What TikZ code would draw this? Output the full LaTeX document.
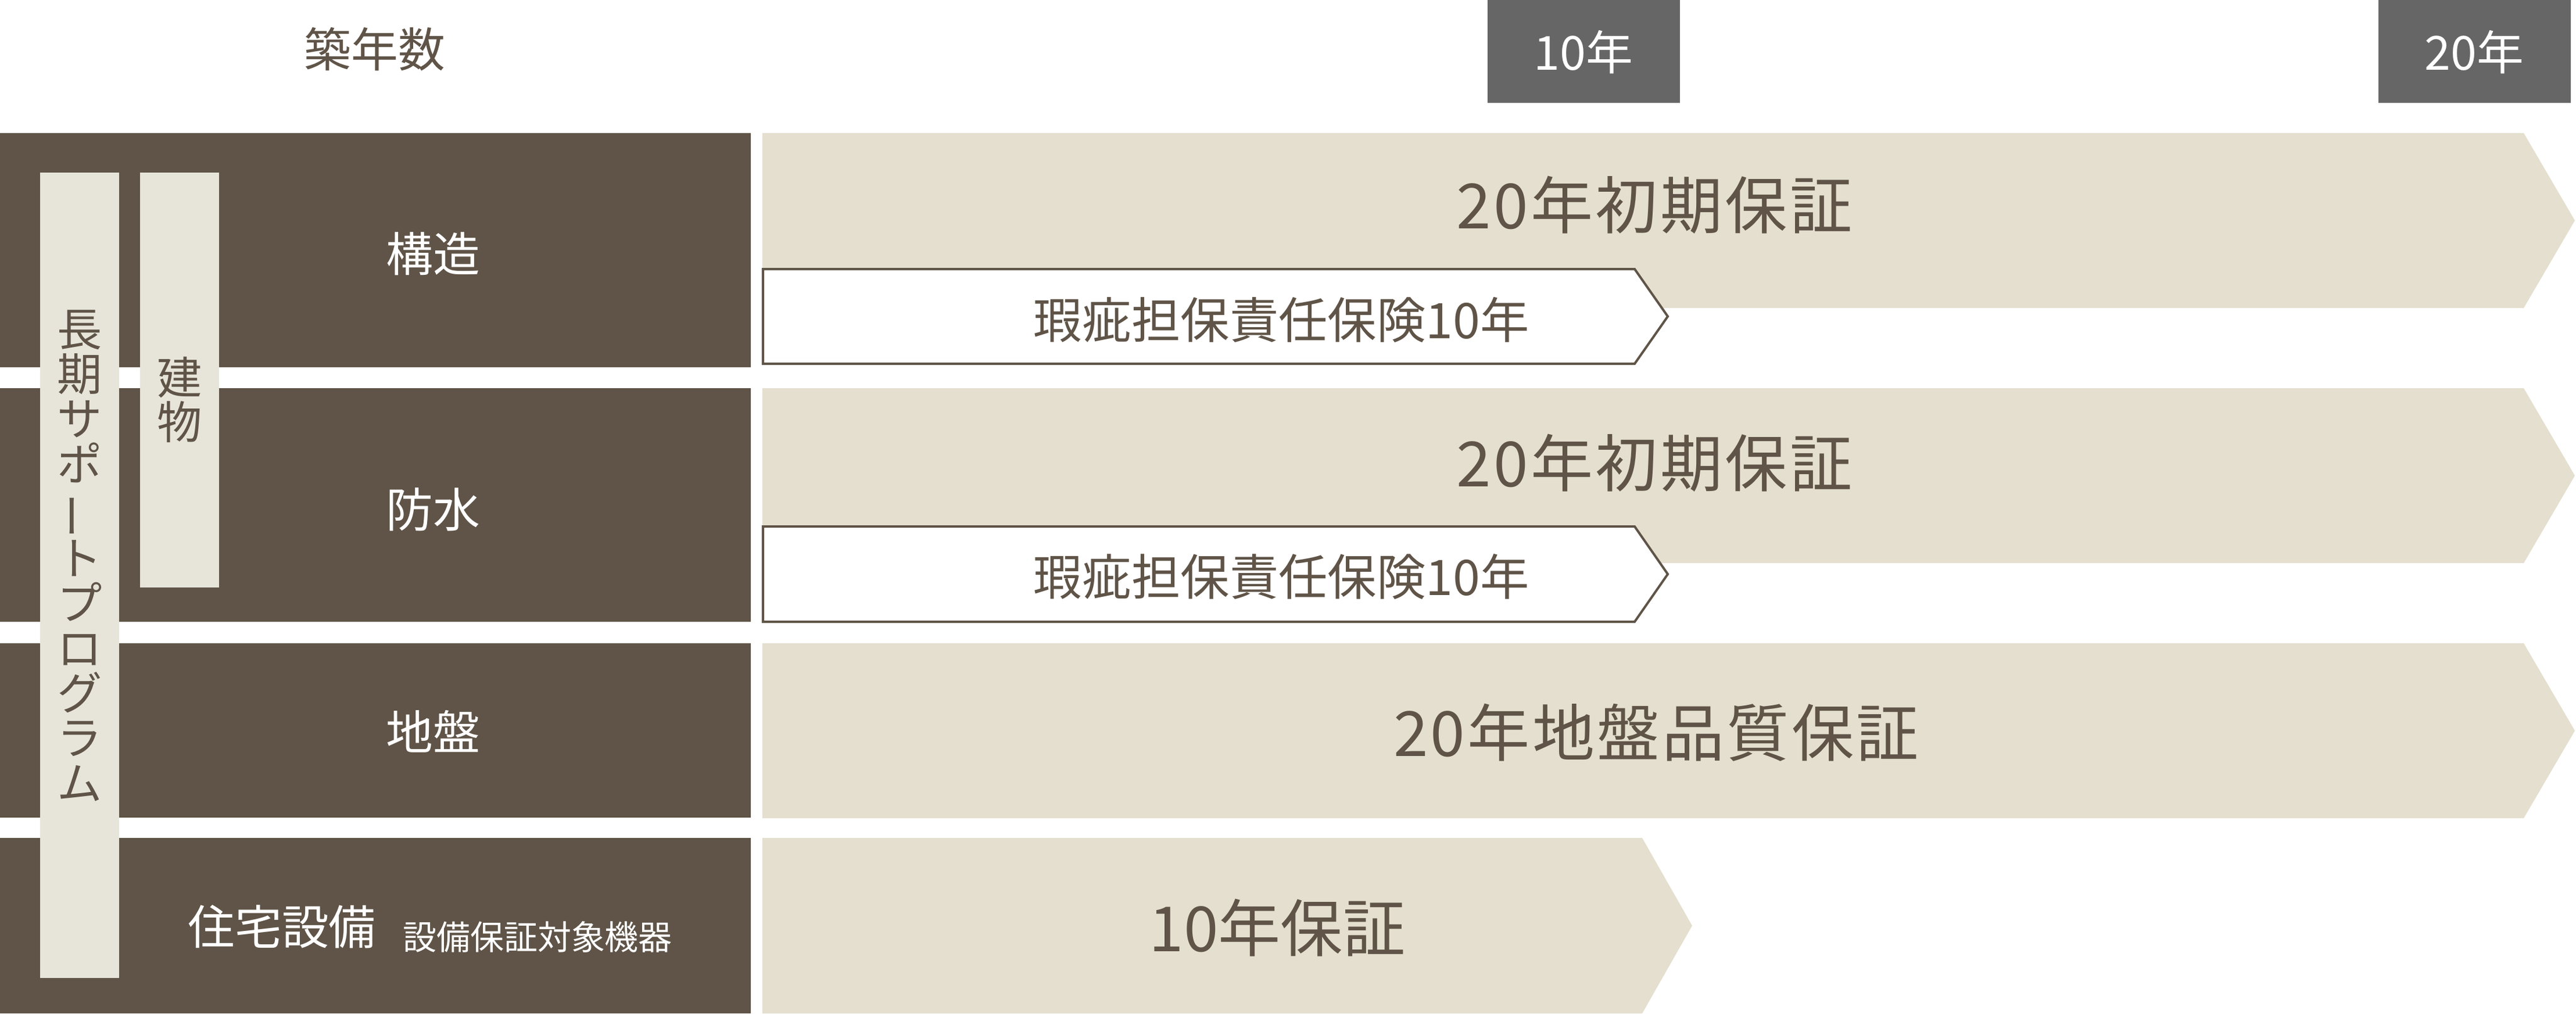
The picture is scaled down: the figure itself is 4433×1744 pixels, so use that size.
\documentclass[tikz,border=0pt]{standalone}
\usepackage{fontspec}
\usepackage{graphicx}
\setmainfont{Noto Sans CJK JP}
\newfontfamily\widejp{Noto Sans CJK JP}[LetterSpace=4]
\definecolor{darkbrown}{HTML}{5F5447}
\definecolor{sandbeige}{HTML}{E4DFCF}
\definecolor{palebar}{HTML}{E7E5DA}
\definecolor{taggray}{HTML}{666666}

\begin{document}
\begin{tikzpicture}[x=0.1mm,y=-0.1mm,
    rowbox/.style={fill=darkbrown},
    band/.style={fill=sandbeige},
    insure/.style={fill=white,draw=darkbrown,line width=0.4mm,line join=miter},
    tagbox/.style={fill=taggray},
    txtw/.style={text=white,inner sep=0pt,font=\fontsize{23}{23}\selectfont},
    txtb/.style={text=darkbrown,inner sep=0pt,font=\fontsize{23}{23}\selectfont},
    vert/.style={text=darkbrown,inner sep=0pt,align=center,font=\fontsize{22}{22}\selectfont},
    bigtxt/.style={text=darkbrown,inner sep=0pt,font=\fontsize{30.5}{30.5}\selectfont}]
    \useasboundingbox (0,0) rectangle (4433,1744);
    \node[txtb] (age) at (645,85) {築年数};
    \fill[tagbox] (2560,0) rectangle (2891,177);
    \node[txtw] (y10) at (2725,90) {10年};
    \fill[tagbox] (4093,0) rectangle (4424,177);
    \node[txtw] (y20) at (4258,90) {20年};
    \foreach \ya/\yb in {229/632,668/1070,1107/1407,1442/1744}
        \fill[rowbox] (0,\ya) rectangle (1292,\yb);
    \fill[palebar] (69,297) rectangle (205,1683);
    \fill[palebar] (241,297) rectangle (377,1011);
    \node[vert] (longterm) at (137,956) {長\\期\\サ\\ポ\\\rotatebox[origin=c]{90}{ー}\\ト\\プ\\ロ\\グ\\ラ\\ム};
    \node[vert] (bldg) at (309,688) {建\\物};
    \node[txtw] (kozo) at (745,437) {構造};
    \node[txtw] (bosui) at (745,877) {防水};
    \node[txtw] (jiban) at (745,1259) {地盤};
    \node[txtw] (setsubi) at (485,1595) {住宅設備};
    \node[txtw,font=\fontsize{16.5}{16.5}\selectfont] (kiki) at (925,1612) {設備保証対象機器};
    \foreach \ya/\yb in {229/530,668/969,1107/1408}
        \fill[band] (1312,\ya) -- (4343,\ya) -- (4431,{(\ya+\yb)/2}) -- (4343,\yb) -- (1312,\yb) -- cycle;
    \fill[band] (1312,1442) -- (2826,1442) -- (2912,1593) -- (2826,1744) -- (1312,1744) -- cycle;
    \foreach \ya/\yb in {463/626,906/1070}
        \draw[insure] (1313,\ya) -- (2813,\ya) -- (2870,{(\ya+\yb)/2}) -- (2813,\yb) -- (1313,\yb) -- cycle;
    \node[bigtxt] (init1) at (2847,353) {\widejp 20年初期保証};
    \node[txtb,font=\fontsize{24}{24}\selectfont] (defect1) at (2205,550) {瑕疵担保責任保険10年};
    \node[bigtxt] (init2) at (2847,797) {\widejp 20年初期保証};
    \node[txtb,font=\fontsize{24}{24}\selectfont] (defect2) at (2205,992) {瑕疵担保責任保険10年};
    \node[bigtxt] (ground) at (2850,1261) {\widejp 20年地盤品質保証};
    \node[bigtxt] (equip) at (2198,1597) {10年保証};
\end{tikzpicture}
\end{document}
